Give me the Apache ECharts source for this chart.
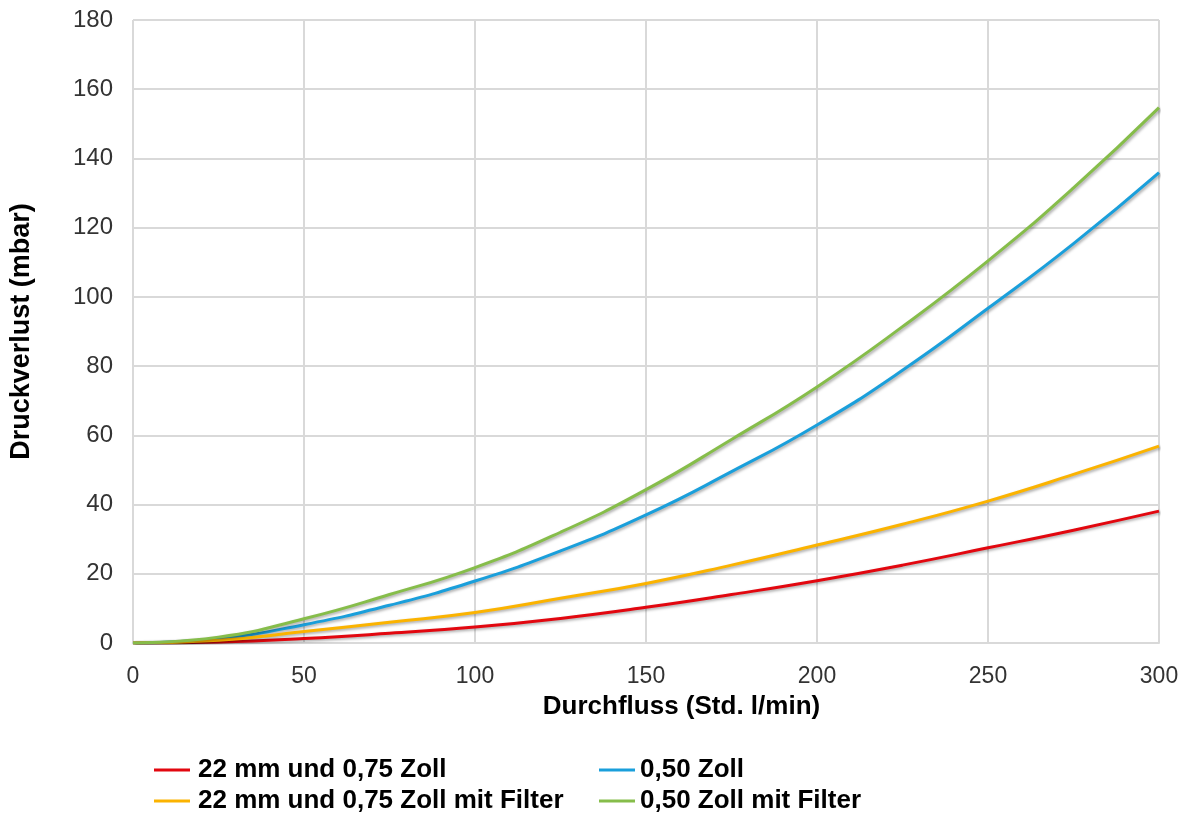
<!DOCTYPE html>
<html>
<head>
<meta charset="utf-8">
<script src="https://cdn.jsdelivr.net/npm/echarts@6/dist/echarts.min.js"></script>
<style>
  html, body { margin: 0; padding: 0; background: #fff; }
  #chart { width: 1193px; height: 814px; }
</style>
</head>
<body>
<div id="chart"></div>
<script>
// Durchfluss-Werte (Std. l/min)
const flow = [0, 25, 50, 75, 100, 125, 150, 175, 200, 225, 250, 275, 300];

// Druckverlust (mbar)
const red22mm = [0, 0.3, 1.3, 2.8, 4.6, 7.1, 10.3, 14, 18, 22.5, 27.5, 32.6, 38.1];
const blue050 = [0, 1.3, 5.3, 10.9, 17.9, 26.6, 37, 49.5, 63, 78.8, 96.7, 115.4, 135.9];
const orange22mmFilter = [0, 0.8, 3.3, 6, 8.8, 12.9, 17.2, 22.5, 28.3, 34.3, 41, 48.7, 56.9];
const green050Filter = [0, 1.7, 7, 14, 21.8, 32, 44.3, 58.8, 74, 91.4, 110.4, 131.5, 154.7];

const seriesNames = [
    '22 mm und 0,75 Zoll',
    '0,50 Zoll',
    '22 mm und 0,75 Zoll mit Filter',
    '0,50 Zoll mit Filter'
];
const seriesColors = ['#e2070f', '#1a9fdb', '#fbb300', '#86bd4a'];
const seriesValues = [red22mm, blue050, orange22mmFilter, green050Filter];

function pairs(values) {
    return flow.map(function (x, i) { return [x, values[i]]; });
}

const chart = echarts.init(document.getElementById('chart'));

const fontFamily = 'Liberation Sans, Arial, sans-serif';

const series = seriesNames.map(function (name, i) {
    return {
        name: name,
        type: 'line',
        smooth: 0.5,
        showSymbol: false,
        symbol: 'none',
        z: 3 + i,
        lineStyle: {
            color: seriesColors[i],
            width: 3,
            shadowColor: 'rgba(0,0,0,0.35)',
            shadowBlur: 3,
            shadowOffsetX: 1.5,
            shadowOffsetY: 1.5
        },
        itemStyle: { color: seriesColors[i] },
        data: pairs(seriesValues[i])
    };
});

// Legende: 2 Spalten x 2 Zeilen, jeder Eintrag eigene Legende
const legendPos = [
    { left: 154, top: 757 },
    { left: 599, top: 757 },
    { left: 154, top: 788 },
    { left: 599, top: 788 }
];
const legends = seriesNames.map(function (name, i) {
    return {
        data: [name],
        left: legendPos[i].left,
        top: legendPos[i].top,
        itemWidth: 36,
        itemHeight: 3,
        icon: 'rect',
        padding: 0,
        textStyle: {
            color: '#000',
            fontSize: 26,
            fontWeight: 'bold',
            fontFamily: fontFamily,
            padding: [0, 0, 0, i % 2 === 0 ? 3 : 0]
        }
    };
});

const option = {
    backgroundColor: '#fff',
    animation: false,
    grid: {
        left: 133,
        right: 34,
        top: 20,
        bottom: 171
    },
    legend: legends,
    xAxis: {
        type: 'value',
        min: 0,
        max: 300,
        interval: 50,
        name: 'Durchfluss (Std. l/min)',
        nameLocation: 'middle',
        nameGap: 51,
        nameTextStyle: {
            color: '#000',
            fontSize: 26,
            fontWeight: 'bold',
            fontFamily: fontFamily,
            padding: [0, 0, 0, 71]
        },
        axisLine: { show: true, lineStyle: { color: '#d9d9d9', width: 2 } },
        axisTick: { show: false },
        axisLabel: {
            color: '#333',
            fontSize: 23,
            margin: 22,
            fontFamily: fontFamily
        },
        splitLine: { show: true, lineStyle: { color: '#d9d9d9', width: 2 } }
    },
    yAxis: {
        type: 'value',
        min: 0,
        max: 180,
        interval: 20,
        name: 'Druckverlust (mbar)',
        nameLocation: 'middle',
        nameGap: 98,
        nameTextStyle: {
            color: '#000',
            fontSize: 27,
            fontWeight: 'bold',
            fontFamily: fontFamily
        },
        axisLine: { show: false },
        axisTick: { show: false },
        axisLabel: {
            color: '#333',
            fontSize: 24,
            margin: 20,
            fontFamily: fontFamily
        },
        splitLine: { show: true, lineStyle: { color: '#d9d9d9', width: 2 } }
    },
    series: series
};

chart.setOption(option);
</script>
</body>
</html>
